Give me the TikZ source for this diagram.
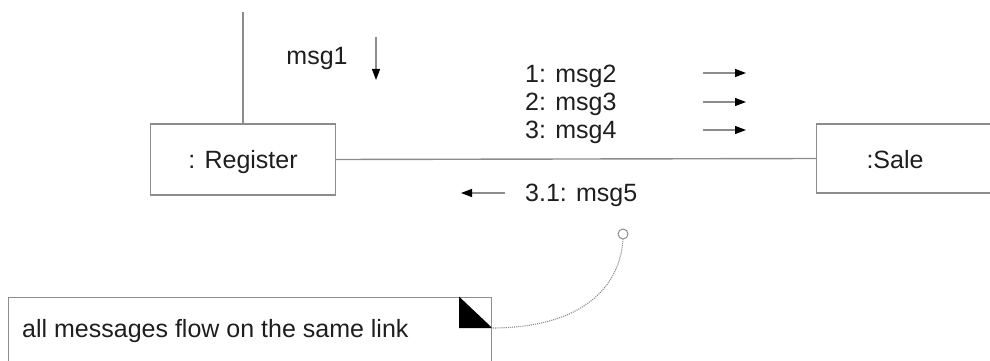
\documentclass[tikz,border=0pt]{standalone}
\usepackage{fontspec}
\setmainfont{Liberation Sans}
\usetikzlibrary{arrows.meta}
\definecolor{linegray}{HTML}{8C8C8C}
\definecolor{txt}{HTML}{1E1E1E}
\begin{document}
\begin{tikzpicture}[x=1pt,y=-1pt,
  lbl/.style={inner sep=0pt,font=\fontsize{25}{28}\selectfont,text=txt},
  objbox/.style={draw=linegray,line width=1.4pt,inner sep=0pt},
  link/.style={draw=linegray,line width=1.4pt},
  msgarrow/.style={draw=linegray,line width=1.3pt,-{Triangle[length=11pt,width=8pt,color=black]}},
  notebox/.style={draw=linegray,line width=1.3pt}]
\useasboundingbox (0,0) rectangle (990,361);
\clip (0,0) rectangle (990,361);
% objects
\node[objbox,minimum width=185pt,minimum height=71pt] (reg) at (243,159.5) {};
\node[lbl,anchor=base] (regtxt) at (243,168) {: Register};
\node[objbox,minimum width=200pt,minimum height=69pt,anchor=west] (sale) at (816,158.5) {};
\node[lbl,anchor=base] (saletxt) at (895,168) {:Sale};
% links
\coordinate (top) at (243,12);
\draw[link] (reg.north) -- (top);
\draw[link] (reg.east) -- (sale.west);
% messages
\node[lbl,anchor=base] (m1) at (317,64) {msg1};
\coordinate (d1) at (376,37); \coordinate (d2) at (376,80);
\draw[msgarrow] (d1) -- (d2);
\node[lbl,anchor=base west] (m2) at (525,82) {1: msg2};
\node[lbl,anchor=base west] (m3) at (525,110) {2: msg3};
\node[lbl,anchor=base west] (m4) at (525,138) {3: msg4};
\node[lbl,anchor=base west] (m5) at (525,201) {3.1: msg5};
\coordinate (a1) at (703,73); \coordinate (b1) at (746,73);
\coordinate (a2) at (703,102); \coordinate (b2) at (746,102);
\coordinate (a3) at (703,130); \coordinate (b3) at (746,130);
\draw[msgarrow] (a1) -- (b1);
\draw[msgarrow] (a2) -- (b2);
\draw[msgarrow] (a3) -- (b3);
\coordinate (c1) at (505,193); \coordinate (c2) at (461,193);
\draw[msgarrow] (c1) -- (c2);
% note
\node[notebox,minimum width=483pt,minimum height=64pt,anchor=north west] (note) at (8,296.5) {};
\node[lbl,anchor=base west] (notetxt) at (22,337) {all messages flow on the same link};
\fill[black] (459,296.5) -- (459,328) -- (note.north east |- 0,328) -- cycle;
\node[draw=linegray,line width=1pt,circle,minimum size=10pt,inner sep=0pt] (anc) at (623,234) {};
\coordinate (nc) at (491,328);
\draw[linegray,line width=1.1pt,densely dotted] (nc) .. controls (585,328) and (620,285) .. (anc.south);
\end{tikzpicture}
\end{document}
